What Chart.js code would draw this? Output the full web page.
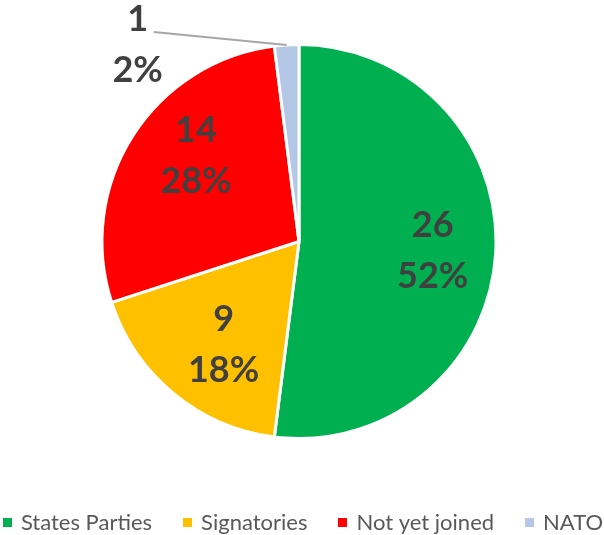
<!DOCTYPE html>
<html>
<head>
<meta charset="utf-8">
<script src="https://cdn.jsdelivr.net/npm/chart.js@4/dist/chart.umd.min.js"></script>
<style>
  html, body { margin: 0; padding: 0; background: #ffffff; }
  #wrap { position: relative; width: 604px; height: 535px; }
</style>
</head>
<body>
<div id="wrap"><canvas id="c" width="604" height="535"></canvas></div>
<script>
// ---- data ----
const categories = ["States Parties", "Signatories", "Not yet joined", "NATO"];
const counts = [26, 9, 14, 1];
const colors = ["#00B050", "#FFC000", "#FF0000", "#B4C7E7"];

// ---- label / legend placement (style only) ----
const labelRadiusFrac = 0.68;
const labelNudge = [[0, 0], [10, 0], [10, -14], [0, 0]];
const outsideLabel = { index: 3, dx: -149, dy: 0 };
const legendStyle = { y: 522.5, centerX: 303, box: 9, boxGap: 9, itemGap: 31,
                      font: '22px Lato', color: '#595959' };

const total = counts.reduce((a, b) => a + b, 0);

const labelPlugin = {
  id: 'pieLabels',
  afterDatasetsDraw(chart) {
    const ctx = chart.ctx;
    const meta = chart.getDatasetMeta(0);
    const ds = chart.data.datasets[0].data;
    ctx.save();
    ctx.font = 'bold 36px Lato';
    ctx.fillStyle = '#404040';
    ctx.textAlign = 'center';
    ctx.textBaseline = 'middle';
    meta.data.forEach((arc, i) => {
      const p = arc.getProps(['x', 'y', 'startAngle', 'endAngle', 'outerRadius'], true);
      const mid = (p.startAngle + p.endAngle) / 2;
      const v = ds[i];
      const pct = Math.round(v / total * 100) + '%';
      let cx, cy;
      if (i === outsideLabel.index) {
        const ax = p.x + Math.cos(mid) * p.outerRadius;
        const ay = p.y + Math.sin(mid) * p.outerRadius;
        cx = ax + outsideLabel.dx;
        cy = ay + outsideLabel.dy;
        ctx.strokeStyle = '#A6A6A6';
        ctx.lineWidth = 2;
        ctx.beginPath();
        ctx.moveTo(cx + 16, cy - 13);
        ctx.lineTo(ax, ay);
        ctx.stroke();
      } else {
        const r = p.outerRadius * labelRadiusFrac;
        cx = p.x + Math.cos(mid) * r + labelNudge[i][0];
        cy = p.y + Math.sin(mid) * r + labelNudge[i][1];
      }
      ctx.fillText(String(v), cx, cy - 25);
      ctx.fillText(pct, cx, cy + 26);
    });
    ctx.restore();
  }
};

const legendPlugin = {
  id: 'bottomLegend',
  afterDraw(chart) {
    const ctx = chart.ctx;
    const s = legendStyle;
    const ds = chart.data.datasets[0];
    ctx.save();
    ctx.font = s.font;
    ctx.textBaseline = 'middle';
    ctx.textAlign = 'left';
    const widths = chart.data.labels.map(t => ctx.measureText(t).width);
    const itemW = widths.map(w => s.box + s.boxGap + w);
    const totalW = itemW.reduce((a, b) => a + b, 0) + s.itemGap * (itemW.length - 1);
    let x = s.centerX - totalW / 2;
    chart.data.labels.forEach((t, i) => {
      ctx.fillStyle = ds.backgroundColor[i];
      ctx.fillRect(Math.round(x), Math.round(s.y - s.box / 2), s.box, s.box);
      ctx.fillStyle = s.color;
      ctx.fillText(t, x + s.box + s.boxGap, s.y);
      x += itemW[i] + s.itemGap;
    });
    ctx.restore();
  }
};

new Chart(document.getElementById('c'), {
  type: 'pie',
  data: {
    labels: categories,
    datasets: [{
      data: counts,
      backgroundColor: colors,
      borderColor: '#ffffff',
      borderWidth: 3,
      radius: 197
    }]
  },
  options: {
    responsive: false,
    animation: false,
    layout: { padding: { top: 0, bottom: 52, left: 0, right: 6 } },
    plugins: {
      tooltip: { enabled: false },
      legend: { display: false }
    }
  },
  plugins: [labelPlugin, legendPlugin]
});
</script>
</body>
</html>
